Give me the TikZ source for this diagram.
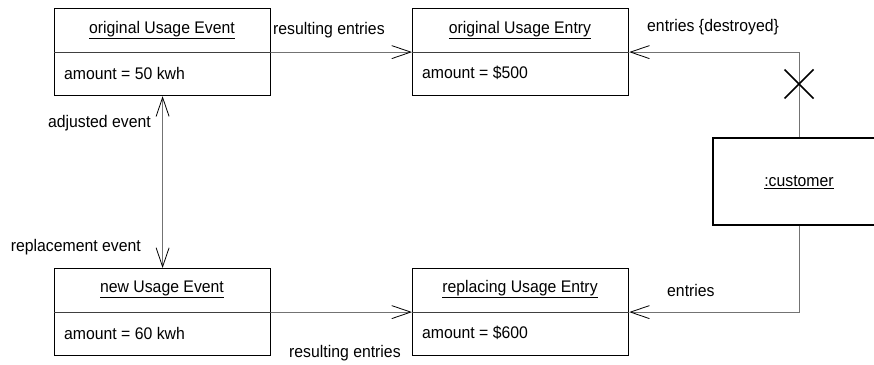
\documentclass[tikz,border=0pt]{standalone}
\usepackage{fontspec}
\setmainfont{Liberation Sans}[FakeStretch=0.94]
\usetikzlibrary{arrows.meta}
\begin{document}
\begin{tikzpicture}[x=1pt,y=-1pt,
  font=\fontsize{16.8}{20}\selectfont,
  box/.style={draw=black, line width=1.2pt, minimum width=216pt, minimum height=87pt, inner sep=0pt, anchor=north west},
  divider/.style={draw=black!75, line width=0.9pt},
  conn/.style={draw=black!55, line width=1pt},
  barb/.style={-{Straight Barb[length=19pt,width=13pt,line width=0.8pt,color=black]}},
  dbarb/.style={{Straight Barb[length=19pt,width=13pt,line width=0.8pt,color=black]}-{Straight Barb[length=19pt,width=13pt,line width=0.8pt,color=black]}},
  title/.style={inner sep=0pt, anchor=center},
  attr/.style={inner sep=0pt, anchor=west},
  lbl/.style={inner sep=0pt}]
\useasboundingbox (0,0) rectangle (874,364);
\clip (0,0) rectangle (874,364);
% boxes
\node[box] (oue) at (54,8) {};
\node[box] (oen) at (412,8) {};
\node[box] (nue) at (54,268) {};
\node[box] (ren) at (412,268) {};
\node[box, anchor=center, minimum width=172pt] (cust) at (799,181.5) {};
% dividers
\draw[divider] (oue.west) -- (oue.east);
\draw[divider] (oen.west) -- (oen.east);
\draw[divider] (nue.west) -- (nue.east);
\draw[divider] (ren.west) -- (ren.east);
% texts
\node[title] (oueT) at (162,30) {\underline{original Usage Event}};
\node[attr] (oueA) at (64,73) {amount = 50 kwh};
\node[title] (oenT) at (520,30) {\underline{original Usage Entry}};
\node[attr] (oenA) at (422,73) {amount = \$500};
\node[title] (nueT) at (162,289) {\underline{new Usage Event}};
\node[attr] (nueA) at (64,333) {amount = 60 kwh};
\node[title] (renT) at (520,289) {\underline{replacing Usage Entry}};
\node[attr] (renA) at (422,333) {amount = \$600};
\node[title] (custT) at (799,182) {\underline{:customer}};
% connector labels
\node[lbl, anchor=west] (l1) at (273,30) {resulting entries};
\node[lbl, anchor=west] (l2) at (647,27) {entries \{destroyed\}};
\node[lbl, anchor=west] (l3) at (667,290) {entries};
\node[lbl, anchor=west] (l4) at (289,353) {resulting entries};
\node[lbl, anchor=east] (l5) at (151,123) {adjusted event};
\node[lbl, anchor=east] (l6) at (141,247) {replacement event};
% connectors
\draw[conn, barb] (oue.east) -- (oen.west);
\draw[conn, barb] (nue.east) -- (ren.west);
\draw[conn, barb] (cust.north) |- (oen.east);
\draw[conn, barb] (cust.south) |- (ren.east);
\draw[conn, dbarb] (oue.south) -- (nue.north);
% destruction mark
\coordinate (xm) at (799,84);
\draw[black, line width=1.5pt] ([shift={(-14.5,-14.5)}]xm) -- ([shift={(14.5,14.5)}]xm);
\draw[black, line width=1.5pt] ([shift={(-14.5,14.5)}]xm) -- ([shift={(14.5,-14.5)}]xm);
\end{tikzpicture}
\end{document}
